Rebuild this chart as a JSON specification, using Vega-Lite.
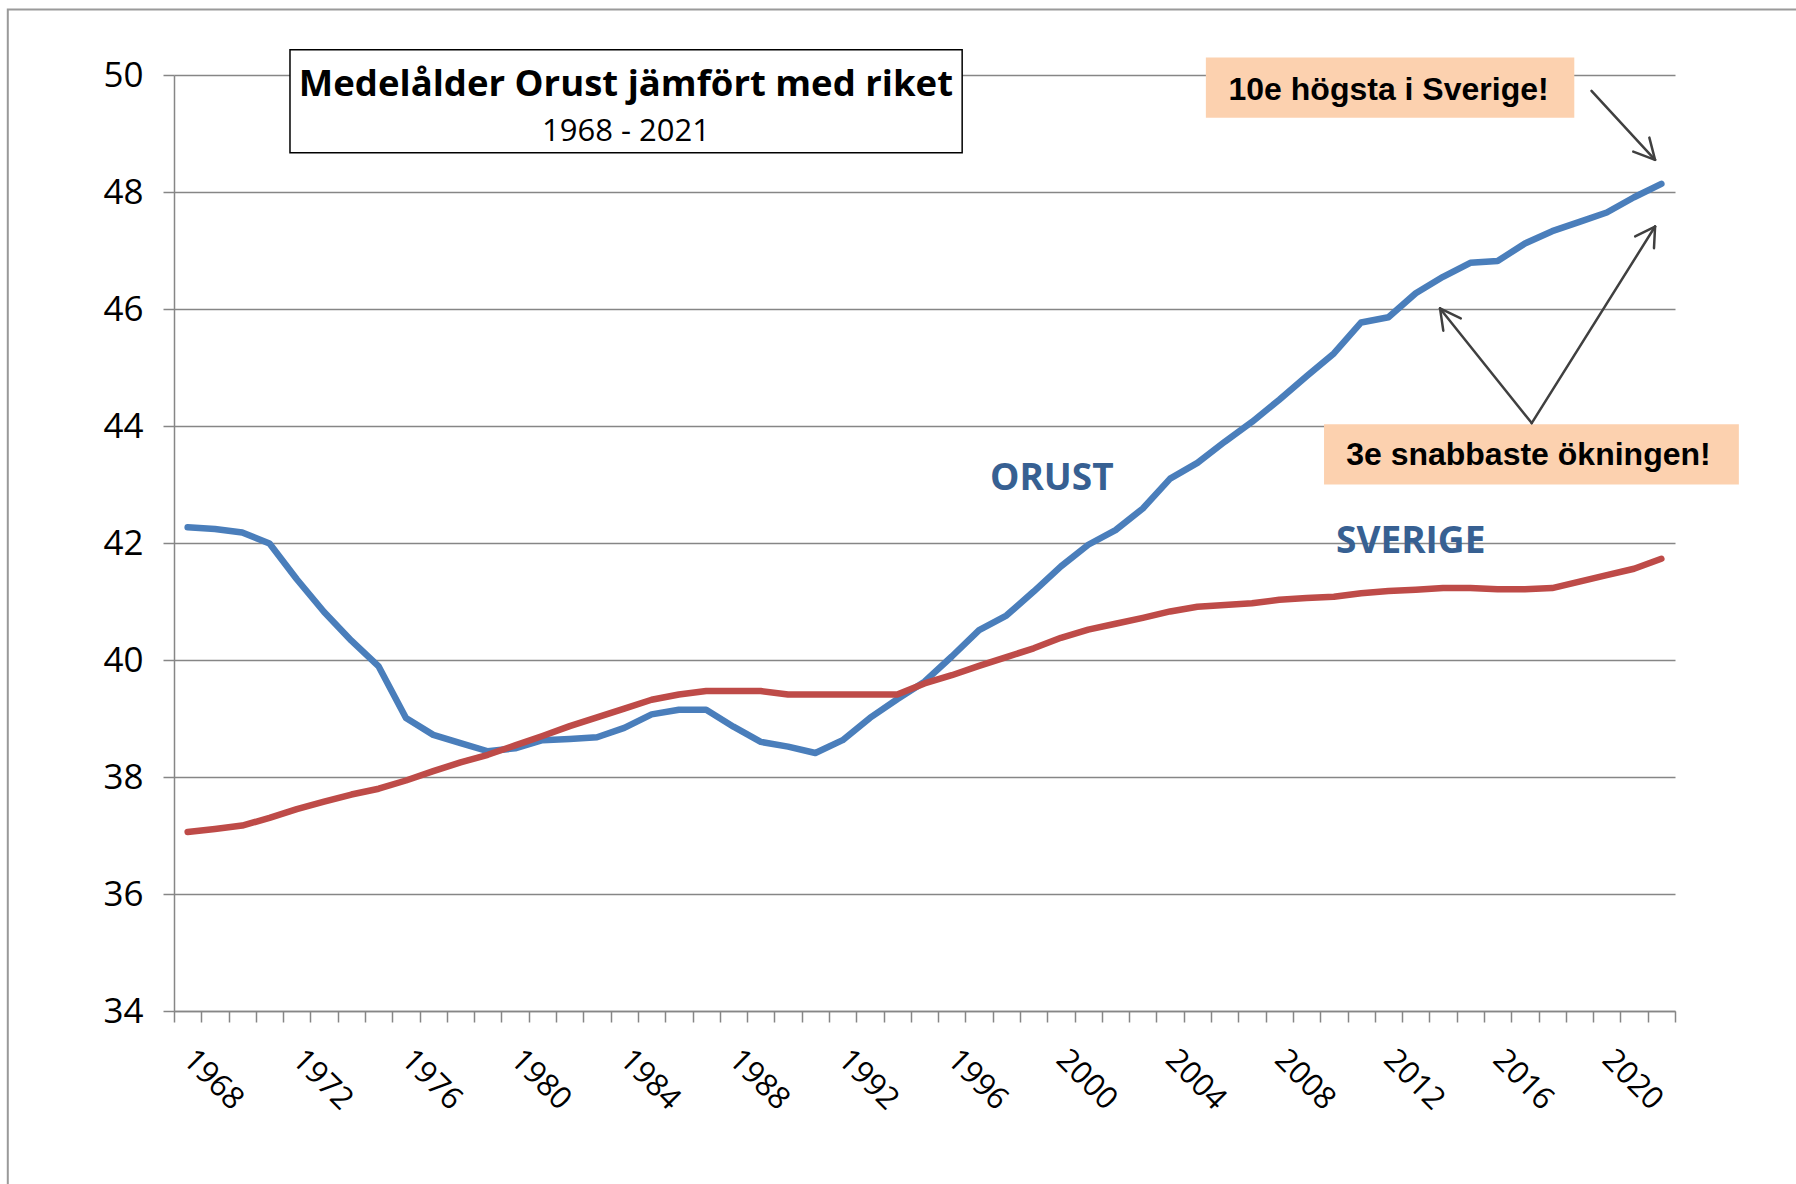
{
  "$schema": "https://vega.github.io/schema/vega-lite/v6.json",
  "width": 1501,
  "height": 936,
  "autosize": {"type": "none"},
  "padding": {"left": 174, "top": 75, "right": 121, "bottom": 173},
  "background": "white",
  "config": {"view": {"stroke": null}},
  "datasets": {
    "series": [
      {"year":1968,"series":"Orust","age":42.27},{"year":1969,"series":"Orust","age":42.24},{"year":1970,"series":"Orust","age":42.18},{"year":1971,"series":"Orust","age":41.99},{"year":1972,"series":"Orust","age":41.38},{"year":1973,"series":"Orust","age":40.82},{"year":1974,"series":"Orust","age":40.33},{"year":1975,"series":"Orust","age":39.89},{"year":1976,"series":"Orust","age":39.01},{"year":1977,"series":"Orust","age":38.72},{"year":1978,"series":"Orust","age":38.58},{"year":1979,"series":"Orust","age":38.44},{"year":1980,"series":"Orust","age":38.49},{"year":1981,"series":"Orust","age":38.63},{"year":1982,"series":"Orust","age":38.65},{"year":1983,"series":"Orust","age":38.68},{"year":1984,"series":"Orust","age":38.84},{"year":1985,"series":"Orust","age":39.07},{"year":1986,"series":"Orust","age":39.15},{"year":1987,"series":"Orust","age":39.15},{"year":1988,"series":"Orust","age":38.86},{"year":1989,"series":"Orust","age":38.60},{"year":1990,"series":"Orust","age":38.52},{"year":1991,"series":"Orust","age":38.41},{"year":1992,"series":"Orust","age":38.63},{"year":1993,"series":"Orust","age":39.01},{"year":1994,"series":"Orust","age":39.33},{"year":1995,"series":"Orust","age":39.63},{"year":1996,"series":"Orust","age":40.06},{"year":1997,"series":"Orust","age":40.51},{"year":1998,"series":"Orust","age":40.76},{"year":1999,"series":"Orust","age":41.17},{"year":2000,"series":"Orust","age":41.60},{"year":2001,"series":"Orust","age":41.97},{"year":2002,"series":"Orust","age":42.22},{"year":2003,"series":"Orust","age":42.59},{"year":2004,"series":"Orust","age":43.10},{"year":2005,"series":"Orust","age":43.37},{"year":2006,"series":"Orust","age":43.73},{"year":2007,"series":"Orust","age":44.07},{"year":2008,"series":"Orust","age":44.45},{"year":2009,"series":"Orust","age":44.85},{"year":2010,"series":"Orust","age":45.24},{"year":2011,"series":"Orust","age":45.77},{"year":2012,"series":"Orust","age":45.86},{"year":2013,"series":"Orust","age":46.27},{"year":2014,"series":"Orust","age":46.55},{"year":2015,"series":"Orust","age":46.79},{"year":2016,"series":"Orust","age":46.82},{"year":2017,"series":"Orust","age":47.12},{"year":2018,"series":"Orust","age":47.33},{"year":2019,"series":"Orust","age":47.49},{"year":2020,"series":"Orust","age":47.65},{"year":2021,"series":"Orust","age":47.91},{"year":2022,"series":"Orust","age":48.14},
      {"year":1968,"series":"Sverige","age":37.06},{"year":1969,"series":"Sverige","age":37.11},{"year":1970,"series":"Sverige","age":37.17},{"year":1971,"series":"Sverige","age":37.30},{"year":1972,"series":"Sverige","age":37.45},{"year":1973,"series":"Sverige","age":37.58},{"year":1974,"series":"Sverige","age":37.70},{"year":1975,"series":"Sverige","age":37.80},{"year":1976,"series":"Sverige","age":37.94},{"year":1977,"series":"Sverige","age":38.10},{"year":1978,"series":"Sverige","age":38.25},{"year":1979,"series":"Sverige","age":38.38},{"year":1980,"series":"Sverige","age":38.54},{"year":1981,"series":"Sverige","age":38.70},{"year":1982,"series":"Sverige","age":38.87},{"year":1983,"series":"Sverige","age":39.02},{"year":1984,"series":"Sverige","age":39.17},{"year":1985,"series":"Sverige","age":39.32},{"year":1986,"series":"Sverige","age":39.41},{"year":1987,"series":"Sverige","age":39.47},{"year":1988,"series":"Sverige","age":39.47},{"year":1989,"series":"Sverige","age":39.47},{"year":1990,"series":"Sverige","age":39.41},{"year":1991,"series":"Sverige","age":39.41},{"year":1992,"series":"Sverige","age":39.41},{"year":1993,"series":"Sverige","age":39.41},{"year":1994,"series":"Sverige","age":39.41},{"year":1995,"series":"Sverige","age":39.60},{"year":1996,"series":"Sverige","age":39.74},{"year":1997,"series":"Sverige","age":39.90},{"year":1998,"series":"Sverige","age":40.05},{"year":1999,"series":"Sverige","age":40.20},{"year":2000,"series":"Sverige","age":40.38},{"year":2001,"series":"Sverige","age":40.52},{"year":2002,"series":"Sverige","age":40.62},{"year":2003,"series":"Sverige","age":40.72},{"year":2004,"series":"Sverige","age":40.83},{"year":2005,"series":"Sverige","age":40.91},{"year":2006,"series":"Sverige","age":40.94},{"year":2007,"series":"Sverige","age":40.97},{"year":2008,"series":"Sverige","age":41.03},{"year":2009,"series":"Sverige","age":41.06},{"year":2010,"series":"Sverige","age":41.08},{"year":2011,"series":"Sverige","age":41.14},{"year":2012,"series":"Sverige","age":41.18},{"year":2013,"series":"Sverige","age":41.20},{"year":2014,"series":"Sverige","age":41.23},{"year":2015,"series":"Sverige","age":41.23},{"year":2016,"series":"Sverige","age":41.21},{"year":2017,"series":"Sverige","age":41.21},{"year":2018,"series":"Sverige","age":41.23},{"year":2019,"series":"Sverige","age":41.34},{"year":2020,"series":"Sverige","age":41.45},{"year":2021,"series":"Sverige","age":41.56},{"year":2022,"series":"Sverige","age":41.73}
    ],
    "boxes": [
      {"kind":"frame","year":1961.41,"year2":2030,"age":51.12,"age2":30},
      {"kind":"title","year":1971.75,"year2":1996.38,"age":50.43,"age2":48.67},
      {"kind":"note","year":2005.31,"year2":2018.81,"age":50.30,"age2":49.27},
      {"kind":"note","year":2009.64,"year2":2024.84,"age":44.03,"age2":43.00}
    ],
    "arrows": [
      {"year":2019.44,"age":49.73,"year2":2021.77,"age2":48.55},
      {"year":2020.97,"age":48.69,"year2":2021.77,"age2":48.55},
      {"year":2021.56,"age":48.93,"year2":2021.77,"age2":48.55},
      {"year":2017.25,"age":44.05,"year2":2021.77,"age2":47.41},
      {"year":2021.04,"age":47.24,"year2":2021.77,"age2":47.41},
      {"year":2021.73,"age":47.04,"year2":2021.77,"age2":47.41},
      {"year":2017.25,"age":44.05,"year2":2013.89,"age2":46.01},
      {"year":2014.65,"age":45.84,"year2":2013.89,"age2":46.01},
      {"year":2014.01,"age":45.63,"year2":2013.89,"age2":46.01}
    ],
    "labels": [
      {"kind":"title","text":"Medelålder Orust jämfört med riket","year":1984.06,"age":49.648},
      {"kind":"subtitle","text":"1968 - 2021","year":1984.06,"age":48.873},
      {"kind":"series","text":"ORUST","year":1997.40,"age":42.91},
      {"kind":"series","text":"SVERIGE","year":2010.08,"age":41.83},
      {"kind":"note","text":"10e högsta i Sverige!","year":2006.14,"age":49.57},
      {"kind":"note","text":"3e snabbaste ökningen!","year":2010.45,"age":43.33}
    ]
  },
  "encoding": {
    "x": {
      "field": "year", "type": "quantitative",
      "scale": {"domain": [1967.5, 2022.5], "nice": false, "zero": false},
      "axis": {
        "title": null,
        "values": [1967.5,1968.5,1969.5,1970.5,1971.5,1972.5,1973.5,1974.5,1975.5,1976.5,1977.5,1978.5,1979.5,1980.5,1981.5,1982.5,1983.5,1984.5,1985.5,1986.5,1987.5,1988.5,1989.5,1990.5,1991.5,1992.5,1993.5,1994.5,1995.5,1996.5,1997.5,1998.5,1999.5,2000.5,2001.5,2002.5,2003.5,2004.5,2005.5,2006.5,2007.5,2008.5,2009.5,2010.5,2011.5,2012.5,2013.5,2014.5,2015.5,2016.5,2017.5,2018.5,2019.5,2020.5,2021.5,2022.5],
        "labelExpr": "(datum.value + 0.5) % 4 == 0 ? '' + (datum.value + 0.5) : ''",
        "labelAngle": 45,
        "labelAlign": "left",
        "labelBaseline": "alphabetic",
        "labelOffset": 7,
        "labelPadding": 39,
        "labelOverlap": false,
        "labelFlush": false,
        "labelBound": false,
        "labelFont": "Open Sans",
        "labelFontSize": 31,
        "labelColor": "#000000",
        "tickSize": 11,
        "tickColor": "#868686",
        "tickWidth": 1.5,
        "domainColor": "#868686",
        "domainWidth": 1.5,
        "grid": false
      }
    },
    "y": {
      "field": "age", "type": "quantitative",
      "scale": {"domain": [34, 50], "nice": false, "zero": false},
      "axis": {
        "title": null,
        "values": [34,36,38,40,42,44,46,48,50],
        "grid": true,
        "gridColor": "#868686",
        "gridWidth": 1.5,
        "tickSize": 11,
        "tickColor": "#868686",
        "tickWidth": 1.5,
        "domainColor": "#868686",
        "domainWidth": 1.5,
        "labelPadding": 20,
        "labelFont": "Open Sans",
        "labelFontSize": 35,
        "labelColor": "#000000"
      }
    }
  },
  "layer": [
    {
      "data": {"name": "boxes"},
      "transform": [{"filter": "datum.kind == 'frame'"}],
      "mark": {"type": "rect", "fill": "#ffffff", "fillOpacity": 0, "stroke": "#9a9a9a", "strokeWidth": 2},
      "encoding": {"x2": {"field": "year2"}, "y2": {"field": "age2"}}
    },
    {
      "data": {"name": "boxes"},
      "transform": [{"filter": "datum.kind == 'title'"}],
      "mark": {"type": "rect", "fill": "#ffffff", "stroke": "#000000", "strokeWidth": 1.5},
      "encoding": {"x2": {"field": "year2"}, "y2": {"field": "age2"}}
    },
    {
      "data": {"name": "series"},
      "transform": [{"filter": "datum.series == 'Orust'"}],
      "mark": {"type": "line", "stroke": "#4A7EBB", "strokeWidth": 6.5, "strokeCap": "round", "strokeJoin": "round"},
      "encoding": {}
    },
    {
      "data": {"name": "series"},
      "transform": [{"filter": "datum.series == 'Sverige'"}],
      "mark": {"type": "line", "stroke": "#BE4B48", "strokeWidth": 6.5, "strokeCap": "round", "strokeJoin": "round"},
      "encoding": {}
    },
    {
      "data": {"name": "boxes"},
      "transform": [{"filter": "datum.kind == 'note'"}],
      "mark": {"type": "rect", "fill": "#FCD1AF"},
      "encoding": {"x2": {"field": "year2"}, "y2": {"field": "age2"}}
    },
    {
      "data": {"name": "arrows"},
      "mark": {"type": "rule", "stroke": "#404040", "strokeWidth": 2.5, "strokeCap": "round"},
      "encoding": {"x2": {"field": "year2"}, "y2": {"field": "age2"}}
    },
    {
      "data": {"name": "labels"},
      "transform": [{"filter": "datum.kind == 'title'"}],
      "mark": {"type": "text", "font": "Open Sans", "fontWeight": "bold", "fontSize": 36.5, "align": "center", "baseline": "alphabetic", "fill": "#000000"},
      "encoding": {"text": {"field": "text"}}
    },
    {
      "data": {"name": "labels"},
      "transform": [{"filter": "datum.kind == 'subtitle'"}],
      "mark": {"type": "text", "font": "Open Sans", "fontSize": 31, "align": "center", "baseline": "alphabetic", "fill": "#000000"},
      "encoding": {"text": {"field": "text"}}
    },
    {
      "data": {"name": "labels"},
      "transform": [{"filter": "datum.kind == 'series'"}],
      "mark": {"type": "text", "font": "Open Sans", "fontWeight": "bold", "fontSize": 37, "align": "left", "baseline": "alphabetic", "fill": "#376092"},
      "encoding": {"text": {"field": "text"}}
    },
    {
      "data": {"name": "labels"},
      "transform": [{"filter": "datum.kind == 'note'"}],
      "mark": {"type": "text", "font": "Liberation Sans", "fontWeight": "bold", "fontSize": 32, "align": "left", "baseline": "alphabetic", "fill": "#000000"},
      "encoding": {"text": {"field": "text"}}
    }
  ]
}
